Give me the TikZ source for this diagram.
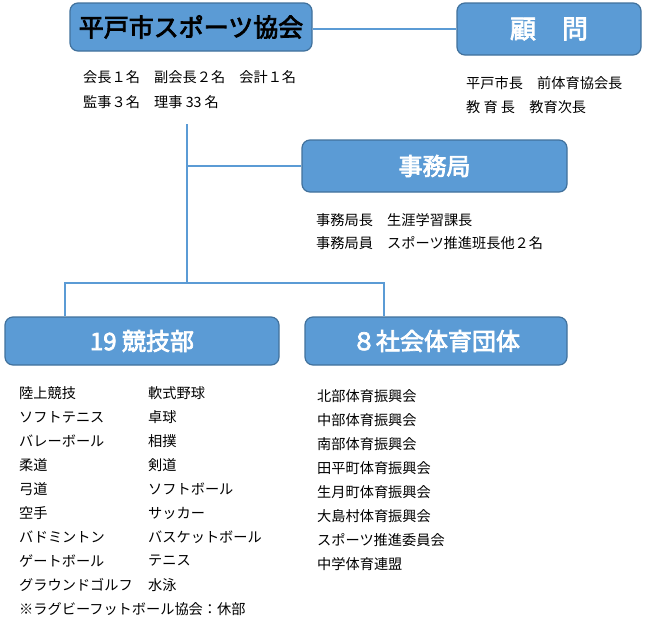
\documentclass[tikz,border=0pt]{standalone}
\usepackage{fontspec}
\setmainfont{Noto Sans CJK JP}
\newfontfamily\boxfont[FakeBold=3]{Noto Sans CJK JP}
\usetikzlibrary{positioning, calc}
\definecolor{boxBlue}{HTML}{5B9BD5}
\definecolor{boxEdge}{HTML}{41719C}

\begin{document}
\begin{tikzpicture}[x=1pt, y=-1pt,
    orgbox/.style={draw=boxEdge, fill=boxBlue, line width=1.2pt, rounded corners=8pt,
        inner sep=0pt, minimum height=48pt, text=white, font=\boxfont\fontsize{24}{24}\selectfont},
    member/.style={anchor=west, inner sep=0pt, font=\fontsize{14.2}{15}\selectfont},
    link/.style={draw=boxBlue, line width=1.4pt}]
    \useasboundingbox (0,0) rectangle (648,622);

    % Boxes
    \node[orgbox, minimum width=242pt, text=black, font=\boxfont\fontsize{25}{25}\selectfont] (kyokai) at (191,27) {平戸市スポーツ協会};
    \node[orgbox, minimum width=184pt, minimum height=52pt, font=\boxfont\fontsize{26}{26}\selectfont] (komon) at (549,29) {顧　問};
    \node[orgbox, minimum width=265pt, minimum height=52pt] (jimu) at (434.5,166) {事務局};
    \node[orgbox, minimum width=274pt] (kyogi) at (142,341) {19 競技部};
    \node[orgbox, minimum width=262pt] (shakai) at (436,341) {８社会体育団体};

    % Connectors
    \coordinate (trunkTop) at (187,124);
    \coordinate (trunkMid) at (187,166);
    \coordinate (trunkLow) at (187,283);
    \coordinate (forkL) at (65,283);
    \coordinate (forkR) at (384,283);
    \draw[link] (kyokai.east |- komon.west) -- (komon.west);
    \draw[link] (trunkTop) -- (trunkLow);
    \draw[link] (trunkMid) -- (jimu.west);
    \draw[link] (forkL |- kyogi.north) -- (forkL) -- (forkR) -- (forkR |- shakai.north);

    % Members
    \node[member] (yaku1) at (83,77) {会長１名　副会長２名　会計１名};
    \node[member] (yaku2) at (83,102) {監事３名　理事 33 名};
    \node[member] (komon1) at (466,83) {平戸市長　前体育協会長};
    \node[member] (komon2) at (466,107) {教 育 長　教育次長};
    \node[member] (jimu1) at (316,220) {事務局長　生涯学習課長};
    \node[member] (jimu2) at (316,243) {事務局員　スポーツ推進班長他２名};

    % Sports (two columns)
    \foreach \a/\b [count=\i from 0] in {陸上競技/軟式野球, ソフトテニス/卓球, バレーボール/相撲,
        柔道/剣道, 弓道/ソフトボール, 空手/サッカー, バドミントン/バスケットボール,
        ゲートボール/テニス, グラウンドゴルフ/水泳} {
        \node[member] (sportA\i) at (19,393+24*\i) {\a};
        \node[member] (sportB\i) at (148,393+24*\i) {\b};
    }
    \node[member] (kyubu) at (19,609) {※ラグビーフットボール協会：休部};

    % Community groups
    \foreach \g [count=\i from 0] in {北部体育振興会, 中部体育振興会, 南部体育振興会, 田平町体育振興会,
        生月町体育振興会, 大島村体育振興会, スポーツ推進委員会, 中学体育連盟} {
        \node[member] (group\i) at (317,396+24*\i) {\g};
    }
\end{tikzpicture}
\end{document}
